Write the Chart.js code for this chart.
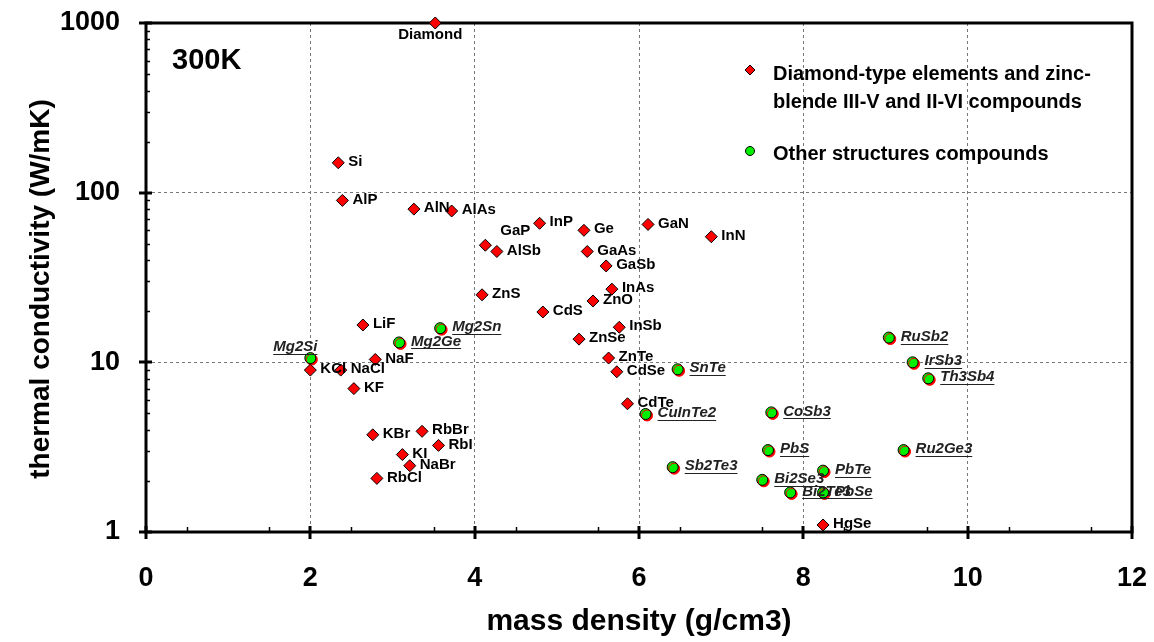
<!DOCTYPE html>
<html>
<head>
<meta charset="utf-8">
<script src="https://cdn.jsdelivr.net/npm/chart.js@4.4.0/dist/chart.umd.min.js"></script>
<style>
  html, body { margin: 0; padding: 0; background: #fff; }
  #wrap { width: 1154px; height: 642px; }
</style>
</head>
<body>
<div id="wrap"><canvas id="chart"></canvas></div>
<script>
// diamond-type elements and zinc-blende III-V / II-VI compounds (plus alkali halides)
const zbNames = ['Diamond', 'Si', 'AlP', 'AlN', 'AlAs', 'GaP', 'AlSb', 'InP', 'Ge', 'GaAs', 'GaN', 'InN',
  'GaSb', 'InAs', 'ZnO', 'ZnS', 'CdS', 'InSb', 'ZnSe', 'ZnTe', 'CdSe', 'CdTe', 'LiF', 'NaF', 'KCl',
  'NaCl', 'KF', 'KBr', 'RbBr', 'RbI', 'KI', 'NaBr', 'RbCl', 'HgSe'];
const zbDensity = [3.52, 2.34, 2.39, 3.26, 3.72, 4.13, 4.27, 4.79, 5.33, 5.37, 6.11, 6.88,
  5.60, 5.67, 5.44, 4.09, 4.83, 5.76, 5.27, 5.63, 5.73, 5.86, 2.64, 2.79, 2.00,
  2.37, 2.53, 2.76, 3.36, 3.56, 3.12, 3.21, 2.81, 8.24];
const zbKappa = [1000, 150, 90, 80, 78, 49, 45, 66, 60, 45, 65, 55,
  37, 27, 23, 25, 19.8, 16.1, 13.7, 10.6, 8.8, 5.7, 16.6, 10.4, 9.0,
  9.0, 7.0, 3.74, 3.92, 3.24, 2.86, 2.46, 2.07, 1.1];

// other structure types
const otherNames = ['Mg2Si', 'Mg2Ge', 'Mg2Sn', 'SnTe', 'CuInTe2', 'Sb2Te3', 'CoSb3', 'PbS', 'Bi2Se3',
  'PbTe', 'Bi2Te3', 'PbSe', 'RuSb2', 'IrSb3', 'Th3Sb4', 'Ru2Ge3'];
const otherDensity = [2.00, 3.08, 3.58, 6.47, 6.08, 6.41, 7.61, 7.57, 7.50,
  8.24, 7.84, 8.24, 9.04, 9.33, 9.52, 9.22];
const otherKappa = [10.6, 13.1, 15.9, 9.1, 4.96, 2.41, 5.07, 3.04, 2.03,
  2.3, 1.71, 1.71, 14.0, 10.0, 8.05, 3.04];

const yTicks = [1, 10, 100, 1000];
const legendLines = [['Diamond-type elements and zinc-', 'blende III-V and II-VI compounds'],
  ['Other structures compounds']];

const FONT = '"Liberation Sans", Arial, sans-serif';

// labels that don't sit to the right of their marker
const labelTweaks = {
  Diamond: { dx: -5, dy: 12, align: 'center' },
  GaP: { dx: 15, dy: -14 },
  Mg2Si: { dx: -15, dy: -11, align: 'center' }
};

function toPoints(xs, ys) {
  return xs.map((x, i) => ({ x: x, y: ys[i] }));
}

// black frame + inward tick marks
const framePlugin = {
  id: 'frame',
  beforeDatasetsDraw(chart) {
    const { ctx, chartArea: a, scales: { x, y } } = chart;
    ctx.save();
    ctx.strokeStyle = '#000';
    ctx.lineWidth = 1.5;
    for (let v = 0.5; v < 12; v += 1) {
      const px = Math.round(x.getPixelForValue(v)) + 0.5;
      ctx.beginPath(); ctx.moveTo(px, a.bottom); ctx.lineTo(px, a.bottom - 5); ctx.stroke();
    }
    for (let d = 1; d < 1000; d *= 10) {
      for (let m = 2; m < 10; m++) {
        const py = Math.round(y.getPixelForValue(d * m)) + 0.5;
        ctx.beginPath(); ctx.moveTo(a.left, py); ctx.lineTo(a.left + 4, py); ctx.stroke();
      }
    }
    ctx.lineWidth = 3;
    for (let v = 0; v <= 12; v += 2) {
      const px = Math.round(x.getPixelForValue(v));
      ctx.beginPath(); ctx.moveTo(px, a.bottom - 6); ctx.lineTo(px, a.bottom + 7); ctx.stroke();
    }
    yTicks.forEach(v => {
      const py = Math.round(y.getPixelForValue(v));
      ctx.beginPath(); ctx.moveTo(a.left - 7, py); ctx.lineTo(a.left + 6, py); ctx.stroke();
    });
    ctx.strokeRect(a.left, a.top, a.right - a.left, a.bottom - a.top);
    ctx.restore();
  }
};

// red offset "shadow" under the green markers
const shadowPlugin = {
  id: 'greenShadow',
  beforeDatasetDraw(chart, args) {
    if (args.index !== 1) return;
    const ctx = chart.ctx;
    ctx.save();
    ctx.shadowColor = '#ff0000';
    ctx.shadowOffsetX = 1.5;
    ctx.shadowOffsetY = 1.5;
    ctx.shadowBlur = 0;
  },
  afterDatasetDraw(chart, args) {
    if (args.index !== 1) return;
    chart.ctx.restore();
  }
};

// compound names next to markers, legend, temperature tag, y title
const labelPlugin = {
  id: 'pointLabels',
  afterDatasetsDraw(chart) {
    const ctx = chart.ctx;
    ctx.save();
    ctx.textBaseline = 'middle';
    const groups = [
      { names: zbNames, italic: false },
      { names: otherNames, italic: true }
    ];
    groups.forEach((g, di) => {
      const meta = chart.getDatasetMeta(di);
      meta.data.forEach((pt, i) => {
        const name = g.names[i];
        const t = labelTweaks[name] || { dx: g.italic ? 12 : 10, dy: -1 };
        const align = t.align || 'left';
        ctx.font = (g.italic ? 'italic bold ' : 'bold ') + '15px ' + FONT;
        ctx.fillStyle = g.italic ? '#222' : '#000';
        ctx.textAlign = align;
        const tx = pt.x + t.dx, ty = pt.y + t.dy;
        ctx.fillText(name, tx, ty);
        if (g.italic) {
          const w = ctx.measureText(name).width;
          const x0 = align === 'center' ? tx - w / 2 : tx;
          ctx.strokeStyle = '#222';
          ctx.lineWidth = 1;
          ctx.beginPath();
          ctx.moveTo(x0, Math.round(ty + 7) + 0.5);
          ctx.lineTo(x0 + w, Math.round(ty + 7) + 0.5);
          ctx.stroke();
        }
      });
    });

    ctx.textAlign = 'left';
    ctx.fillStyle = '#000';
    ctx.font = 'bold 29px ' + FONT;
    ctx.fillText('300K', 172, 61);

    // legend
    ctx.font = 'bold 20px ' + FONT;
    ctx.lineWidth = 1;
    ctx.strokeStyle = '#000';
    ctx.fillStyle = '#ff0000';
    ctx.beginPath();
    ctx.moveTo(750, 65); ctx.lineTo(755, 70); ctx.lineTo(750, 75); ctx.lineTo(745, 70); ctx.closePath();
    ctx.fill(); ctx.stroke();
    ctx.fillStyle = '#00ee00';
    ctx.beginPath(); ctx.arc(750, 151, 4.5, 0, Math.PI * 2); ctx.fill(); ctx.stroke();
    ctx.fillStyle = '#000';
    ctx.fillText(legendLines[0][0], 773, 74);
    ctx.fillText(legendLines[0][1], 773, 102);
    ctx.fillText(legendLines[1][0], 773, 154);

    // y axis title
    ctx.translate(41, 289);
    ctx.rotate(-Math.PI / 2);
    ctx.textAlign = 'center';
    ctx.font = 'bold 28px ' + FONT;
    ctx.fillText('thermal conductivity (W/mK)', 0, 0);
    ctx.restore();
  }
};

function noLabelPadding(scale) {
  scale.paddingTop = 0;
  scale.paddingBottom = 0;
  scale.paddingLeft = 0;
  scale.paddingRight = 0;
}

new Chart(document.getElementById('chart'), {
  type: 'scatter',
  data: {
    datasets: [
      {
        label: 'Diamond-type elements and zinc-blende III-V and II-VI compounds',
        data: toPoints(zbDensity, zbKappa),
        pointStyle: 'rectRot',
        pointRadius: 6,
        pointBackgroundColor: '#ff0000',
        pointBorderColor: '#000',
        pointBorderWidth: 1,
        clip: false
      },
      {
        label: 'Other structures compounds',
        data: toPoints(otherDensity, otherKappa),
        pointStyle: 'circle',
        pointRadius: 5.5,
        pointBackgroundColor: '#00ee00',
        pointBorderColor: '#000',
        pointBorderWidth: 1,
        clip: false
      }
    ]
  },
  options: {
    responsive: true,
    maintainAspectRatio: false,
    animation: false,
    layout: { padding: { top: 23, right: 22, left: 0, bottom: 0 } },
    plugins: {
      legend: { display: false },
      tooltip: { enabled: false }
    },
    scales: {
      x: {
        type: 'linear',
        min: 0,
        max: 12,
        ticks: {
          stepSize: 2,
          padding: 30,
          color: '#000',
          maxRotation: 0,
          font: { family: FONT, size: 27, weight: 'bold' }
        },
        grid: { color: '#777', lineWidth: 1, drawTicks: false },
        border: { display: false, dash: [3, 3] },
        title: {
          display: true,
          text: 'mass density (g/cm3)',
          color: '#000',
          font: { family: FONT, size: 30, weight: 'bold' },
          padding: { top: 0, bottom: 2 }
        },
        afterFit(scale) { scale.height = 110; noLabelPadding(scale); }
      },
      y: {
        type: 'logarithmic',
        min: 1,
        max: 1000,
        afterBuildTicks(scale) { scale.ticks = yTicks.map(v => ({ value: v })); },
        ticks: {
          padding: 26,
          color: '#000',
          font: { family: FONT, size: 27, weight: 'bold' },
          callback: v => String(v)
        },
        grid: { color: '#777', lineWidth: 1, drawTicks: false },
        border: { display: false, dash: [3, 3] },
        afterFit(scale) { scale.width = 146; noLabelPadding(scale); }
      }
    }
  },
  plugins: [framePlugin, shadowPlugin, labelPlugin]
});
</script>
</body>
</html>
